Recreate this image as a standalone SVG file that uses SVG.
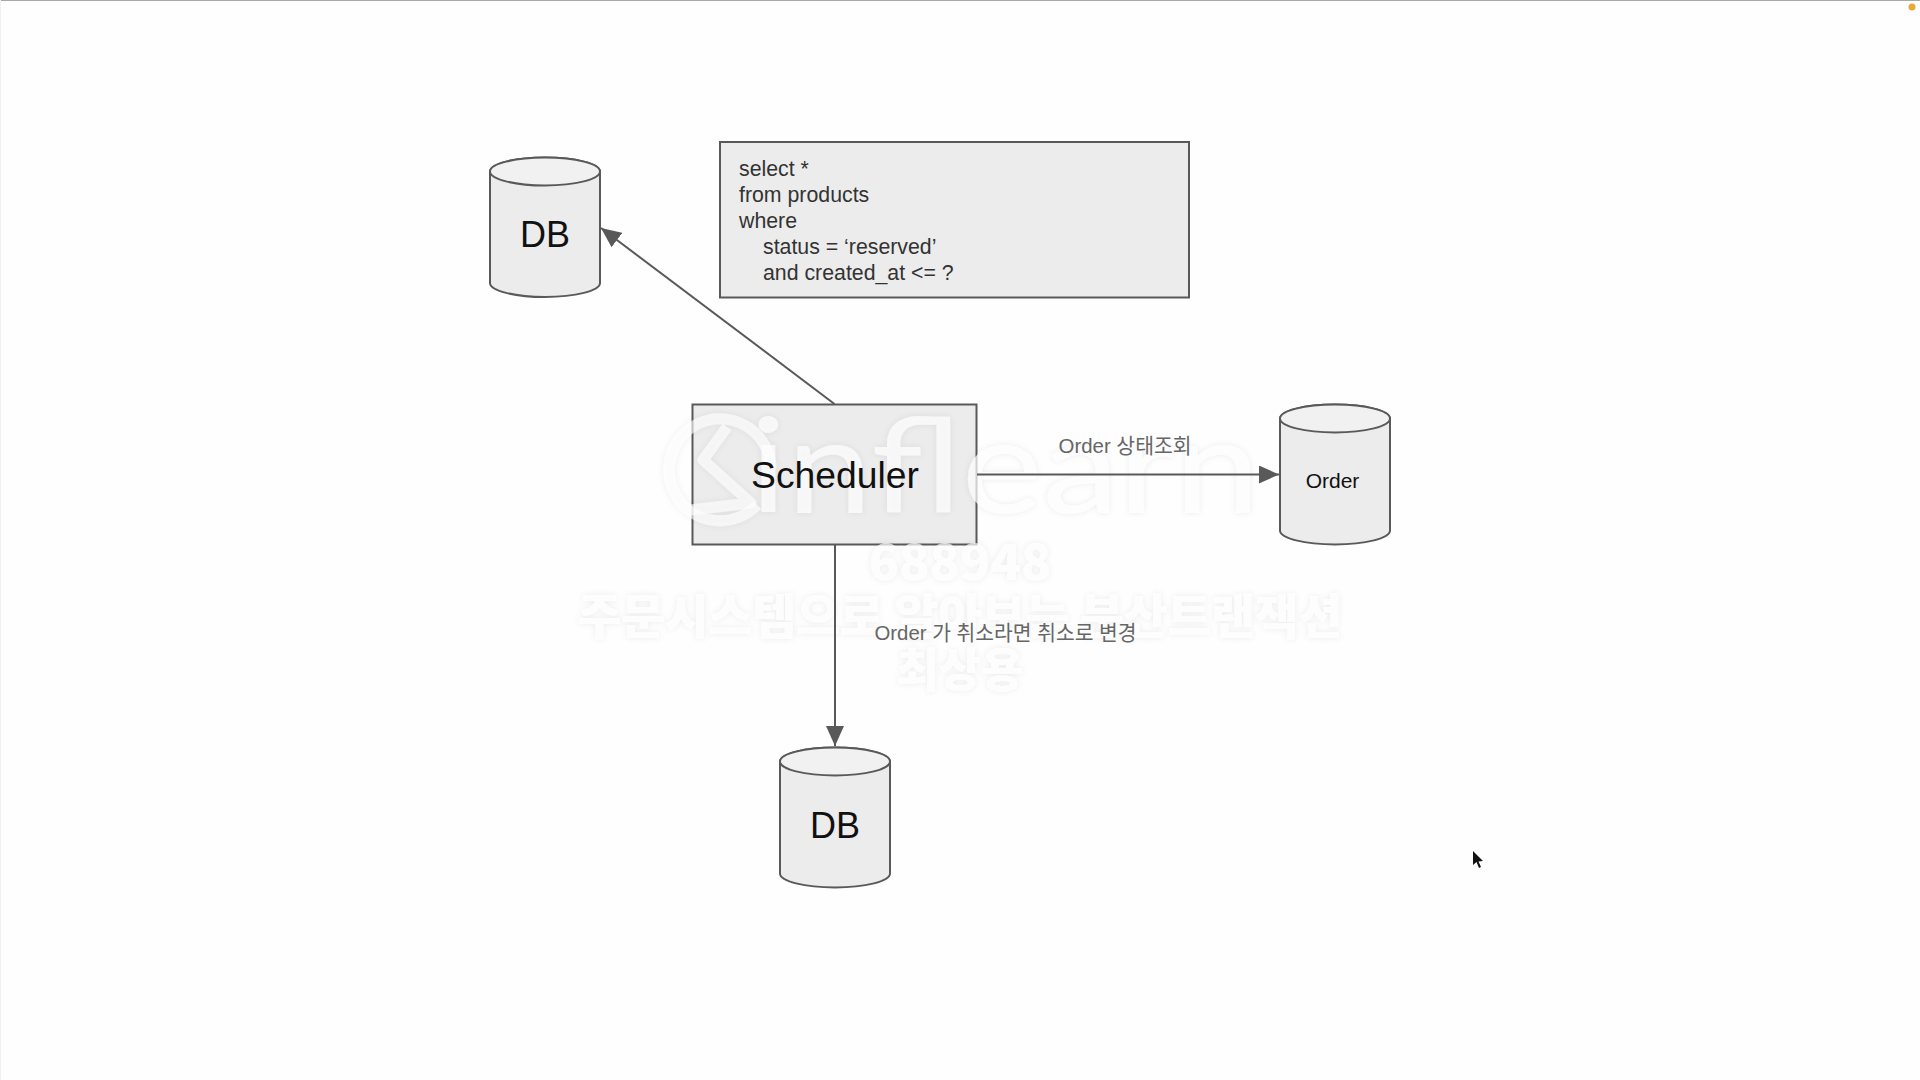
<svg xmlns="http://www.w3.org/2000/svg" xmlns:xlink="http://www.w3.org/1999/xlink" width="1920" height="1080" viewBox="0 0 1920 1080">
<style>
text{font-family:"Liberation Sans","Noto Sans CJK KR",sans-serif}
.s{fill:#ececec;stroke:#595959;stroke-width:2}
.top{fill:#f1f1f1;stroke:#595959;stroke-width:2}
.t{fill:#111;text-anchor:middle}
.q{fill:#333;font-size:21.3px}
.l{fill:#666;font-size:21px}
.c{fill:none;stroke:#595959;stroke-width:2}
.wm{fill:#fff;fill-opacity:.7;font-family:"Noto Sans CJK KR",sans-serif;font-weight:900;text-anchor:middle}
.wl{fill:none;stroke:#fff;stroke-opacity:.6;stroke-width:11;stroke-linejoin:round}
</style>
<defs>
<marker id="a" markerUnits="userSpaceOnUse" markerWidth="24" markerHeight="18" refX="20" refY="9" orient="auto"><path d="M0,0L20,9L0,18Z" fill="#595959"/></marker>
<filter id="g" x="-10%" y="-30%" width="120%" height="160%"><feGaussianBlur in="SourceAlpha" stdDeviation="3" result="b"/><feFlood flood-color="#000" flood-opacity=".1"/><feComposite in2="b" operator="in"/><feMerge><feMergeNode/><feMergeNode in="SourceGraphic"/></feMerge></filter>
<g id="wmk" filter="url(#g)">
<path class="wl" d="M757,505A51,51 0 1 1 771,468"/>
<path class="wl" d="M727,427L703,460L751,503L690,510"/>
<text class="wm" style="font-family:Lato,sans-serif;font-weight:400" x="1005" y="513" font-size="132" textLength="510" lengthAdjust="spacingAndGlyphs">inflearn</text>
<text class="wm" x="960" y="580" font-size="50">688948</text>
<text class="wm" x="960" y="634" font-size="47.500">주문시스템으로 알아보는 분산트랜잭션</text>
<text class="wm" x="960" y="686" font-size="46">최상용</text></g>
</defs>
<rect width="1920" height="1080" fill="#fefefe"/>
<rect width="1920" height="1" fill="#a8a8a8"/>
<rect width="1" height="1080" fill="#f0f0f0"/>
<circle cx="1912" cy="7" r="3.500" fill="#e8a838"/>
<g id="query"><rect class="s" x="720" y="142" width="469" height="155.500"/>
<text class="q" x="739" y="175.600">select *</text><text class="q" x="739" y="201.600">from products</text><text class="q" x="739" y="227.600">where</text><text class="q" x="763" y="253.600">status = ‘reserved’</text><text class="q" x="763" y="279.600">and created_at &lt;= ?</text></g>
<g id="db-top"><path class="s" d="M490,171.500A55,14 0 0 1 600,171.500V283A55,14 0 0 1 490,283Z"/><ellipse class="top" cx="545" cy="171.500" rx="55" ry="14"/><text class="t" x="545" y="247" font-size="36">DB</text></g>
<g id="scheduler"><rect class="s" x="692.500" y="404.500" width="284" height="140"/><use href="#wmk" xlink:href="#wmk"/><text class="t" x="835" y="488" font-size="37.300">Scheduler</text></g>
<g id="order"><path class="s" d="M1280,418.500A55,14 0 0 1 1390,418.500V530.500A55,14 0 0 1 1280,530.500Z"/><ellipse class="top" cx="1335" cy="418.500" rx="55" ry="14"/><text class="t" x="1332.500" y="488" font-size="21">Order</text></g>
<g id="db-bottom"><path class="s" d="M780,761.500A55,14 0 0 1 890,761.500V873.500A55,14 0 0 1 780,873.500Z"/><ellipse class="top" cx="835" cy="761.500" rx="55" ry="14"/><text class="t" x="835" y="838" font-size="36">DB</text></g>
<g id="connectors"><path class="c" d="M834.500,404L601,228" marker-end="url(#a)"/><path class="c" d="M977,474.500H1279" marker-end="url(#a)"/><path class="c" d="M835,544.500V746" marker-end="url(#a)"/></g>
<g id="labels"><text class="l" x="1058.500" y="453" textLength="133" lengthAdjust="spacingAndGlyphs">Order 상태조회</text><text class="l" x="874.500" y="640" textLength="262" lengthAdjust="spacingAndGlyphs">Order 가 취소라면 취소로 변경</text></g>
<path d="M1473,851L1473,865L1476.500,862L1479,868L1481,867L1478.500,861.500L1483,861Z" fill="#111"/>
</svg>
